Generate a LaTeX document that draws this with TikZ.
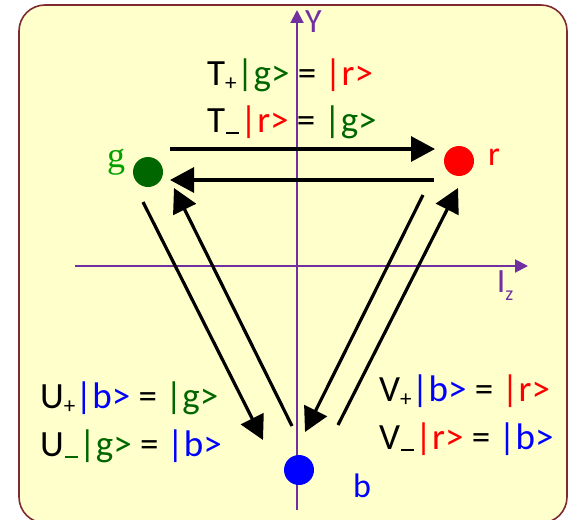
\documentclass[tikz,border=0pt]{standalone}
\usepackage{fontspec}
\setmainfont{Carlito}
\newfontfamily\glabfont{Liberation Serif}
\usepackage{xcolor}
\usetikzlibrary{arrows.meta,positioning}

\definecolor{kgreen}{HTML}{006600}
\definecolor{lgreen}{HTML}{00A000}
\definecolor{kred}{HTML}{FF0000}
\definecolor{kblue}{HTML}{0000FF}
\definecolor{axpurple}{HTML}{7030A0}
\definecolor{framered}{HTML}{7F2A30}
\definecolor{paper}{HTML}{FFFFCC}

\newcommand{\kg}{\textcolor{kgreen}{|g>}}
\newcommand{\kr}{\textcolor{kred}{|r>}}
\newcommand{\kb}{\textcolor{kblue}{|b>}}
\newcommand{\subp}{\raisebox{-0.3ex}{\fontsize{23}{23}\selectfont +}}
\newcommand{\subm}[1][black]{\kern1pt\textcolor{#1}{\rule[-1.5pt]{13pt}{1.8pt}}\kern1pt}

\begin{document}
\begin{tikzpicture}[x=1pt, y=-1pt,
  eq/.style={anchor=base west, inner sep=0pt, font=\fontsize{37}{42}\selectfont},
  dot/.style={circle, minimum size=30pt, inner sep=0pt},
  lbl/.style={inner sep=0pt, font=\fontsize{34}{38}\selectfont},
  axis/.style={axpurple, line width=2pt, -{Triangle[length=13pt,width=13pt]}},
  arr/.style={line width=3.2pt, -{Triangle[length=24pt,width=25pt]}}]
\useasboundingbox (0,0) rectangle (569,519);
\clip (0,0) rectangle (569,519);
\draw[framered, fill=paper, line width=1.6pt, rounded corners=26pt] (19,5) rectangle (567,523);

% axes
\coordinate (xs) at (75,266);
\coordinate (xe) at (528,266);
\coordinate (ys) at (297,510);
\coordinate (ye) at (297,10);
\draw[axis] (xs) -- (xe);
\draw[axis] (ys) -- (ye);
\node[lbl, text=axpurple, anchor=west] (ylab) at (305,22) {Y};
\node[lbl, text=axpurple] (izlab) at (505,286) {I\raisebox{-0.5ex}{\fontsize{20}{20}\selectfont z}};

% colour states
\node[dot, fill=kgreen] (g) at (148,172) {};
\node[dot, fill=kred] (r) at (459,161) {};
\node[dot, fill=kblue] (b) at (299,470) {};
\node[lbl, text=lgreen, font=\glabfont\fontsize{36}{40}\selectfont] (glab) at (116,162) {g};
\node[lbl, text=kred] (rlab) at (494,157) {r};
\node[lbl, text=kblue] (blab) at (362,486) {b};

% ladder operators
\coordinate (t1) at (170,149);
\coordinate (t2) at (435,149);
\coordinate (t3) at (434,180);
\coordinate (t4) at (170,180);
\coordinate (u1) at (143,202);
\coordinate (u2) at (263,440);
\coordinate (u3) at (292,426);
\coordinate (u4) at (174,188);
\coordinate (v1) at (338,425);
\coordinate (v2) at (458,188);
\coordinate (v3) at (423,195);
\coordinate (v4) at (305,432);
\draw[arr] (t1) -- (t2);
\draw[arr] (t3) -- (t4);
\draw[arr] (u1) -- (u2);
\draw[arr] (u3) -- (u4);
\draw[arr] (v1) -- (v2);
\draw[arr] (v3) -- (v4);

\node[eq] (tp) at (207,85) {T\subp\kg\ = \kr};
\node[eq] (tm) at (207,132) {T\subm\kr\ = \kg};
\node[eq] (up) at (40,408) {U\subp\kb\ = \kg};
\node[eq] (um) at (40,456) {U\subm[kgreen]\kg\ = \kb};
\node[eq] (vp) at (379,401) {V\subp\kb\ = \kr};
\node[eq] (vm) at (379,449) {V\subm\kr\ = \kb};
\end{tikzpicture}
\end{document}
